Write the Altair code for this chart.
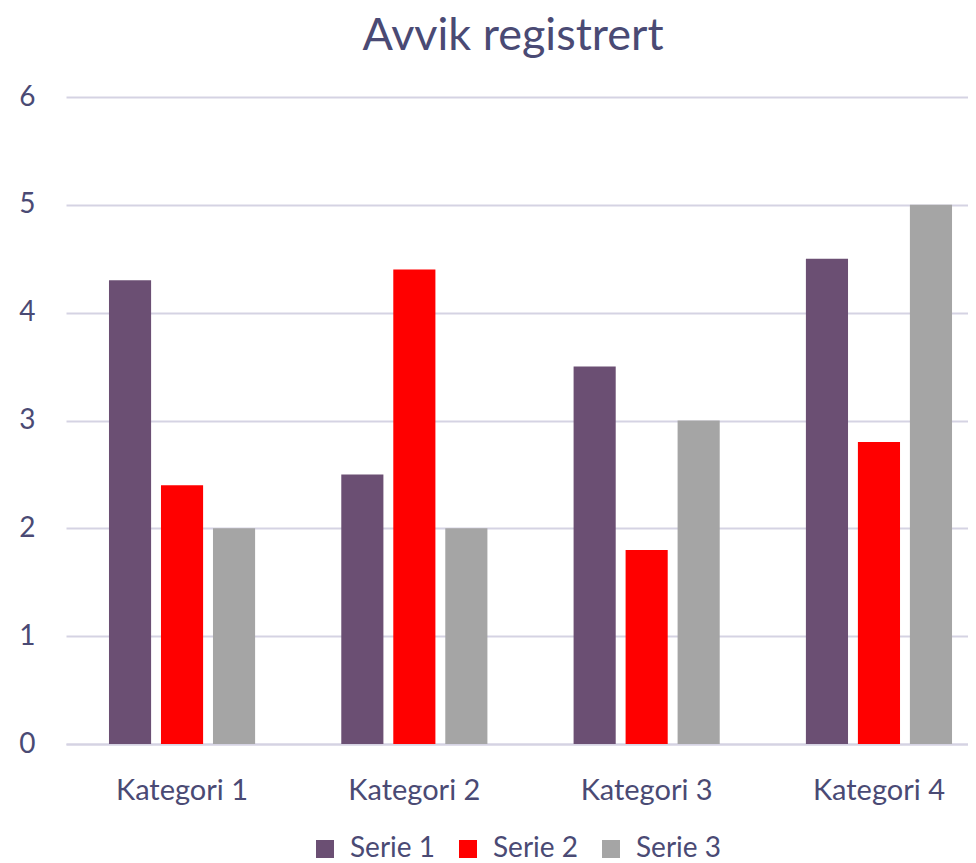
import altair as alt
import pandas as pd

categories = ["Kategori 1", "Kategori 2", "Kategori 3", "Kategori 4"]
series_names = ["Serie 1", "Serie 2", "Serie 3"]
serie1 = [4.3, 2.5, 3.5, 4.5]
serie2 = [2.4, 4.4, 1.8, 2.8]
serie3 = [2.0, 2.0, 3.0, 5.0]
colors = ["#6b4f73", "#ff0000", "#a5a5a5"]

rows = []
for name, vals in zip(series_names, [serie1, serie2, serie3]):
    for c, v in zip(categories, vals):
        rows.append({"Kategori": c, "Serie": name, "Verdi": v})
df = pd.DataFrame(rows)

TEXT = "#4a4a74"
GRID = "#d5d3e3"
FONT = "Lato"

chart = alt.Chart(df).mark_bar().encode(
    x=alt.X("Kategori:N", sort=categories, title=None,
            scale=alt.Scale(paddingInner=0.371, paddingOuter=0.185, range=[0, 929]),
            axis=alt.Axis(labelAngle=0, ticks=False, tickSize=0, domain=True,
                          domainColor=GRID, domainWidth=2, labelPadding=32,
                          labelFontSize=29, labelColor=TEXT, labelFont=FONT, grid=False)),
    xOffset=alt.XOffset("Serie:N", sort=series_names,
                        scale=alt.Scale(paddingInner=0.19, paddingOuter=0)),
    y=alt.Y("Verdi:Q", title=None,
            scale=alt.Scale(domain=[0, 6], nice=False),
            axis=alt.Axis(values=[0, 1, 2, 3, 4, 5, 6], format="d", ticks=False, tickSize=0,
                          domain=False, grid=True, gridColor=GRID, gridWidth=2,
                          labelPadding=31, labelFontSize=28, labelColor=TEXT, labelFont=FONT)),
    color=alt.Color("Serie:N", sort=series_names,
                    scale=alt.Scale(domain=series_names, range=colors),
                    legend=alt.Legend(orient="none", legendX=245, legendY=738,
                                      direction="horizontal", title=None, padding=0,
                                      symbolType="square", symbolSize=324, symbolStrokeWidth=0,
                                      labelFontSize=28, labelColor=TEXT, labelFont=FONT,
                                      labelOffset=11, columnPadding=19)),
).properties(
    width=902,
    height=647,
    title=alt.Title("Avvik registrert", fontSize=45, font=FONT, color=TEXT,
                    fontWeight="normal", offset=24, anchor="middle", dx=-4),
    padding={"left": 58, "top": 89, "right": 0, "bottom": 130},
    autosize=alt.AutoSizeParams(type="none"),
).configure_view(stroke=None)

chart.save("out.html", embed_options={"renderer": "svg", "actions": False})
